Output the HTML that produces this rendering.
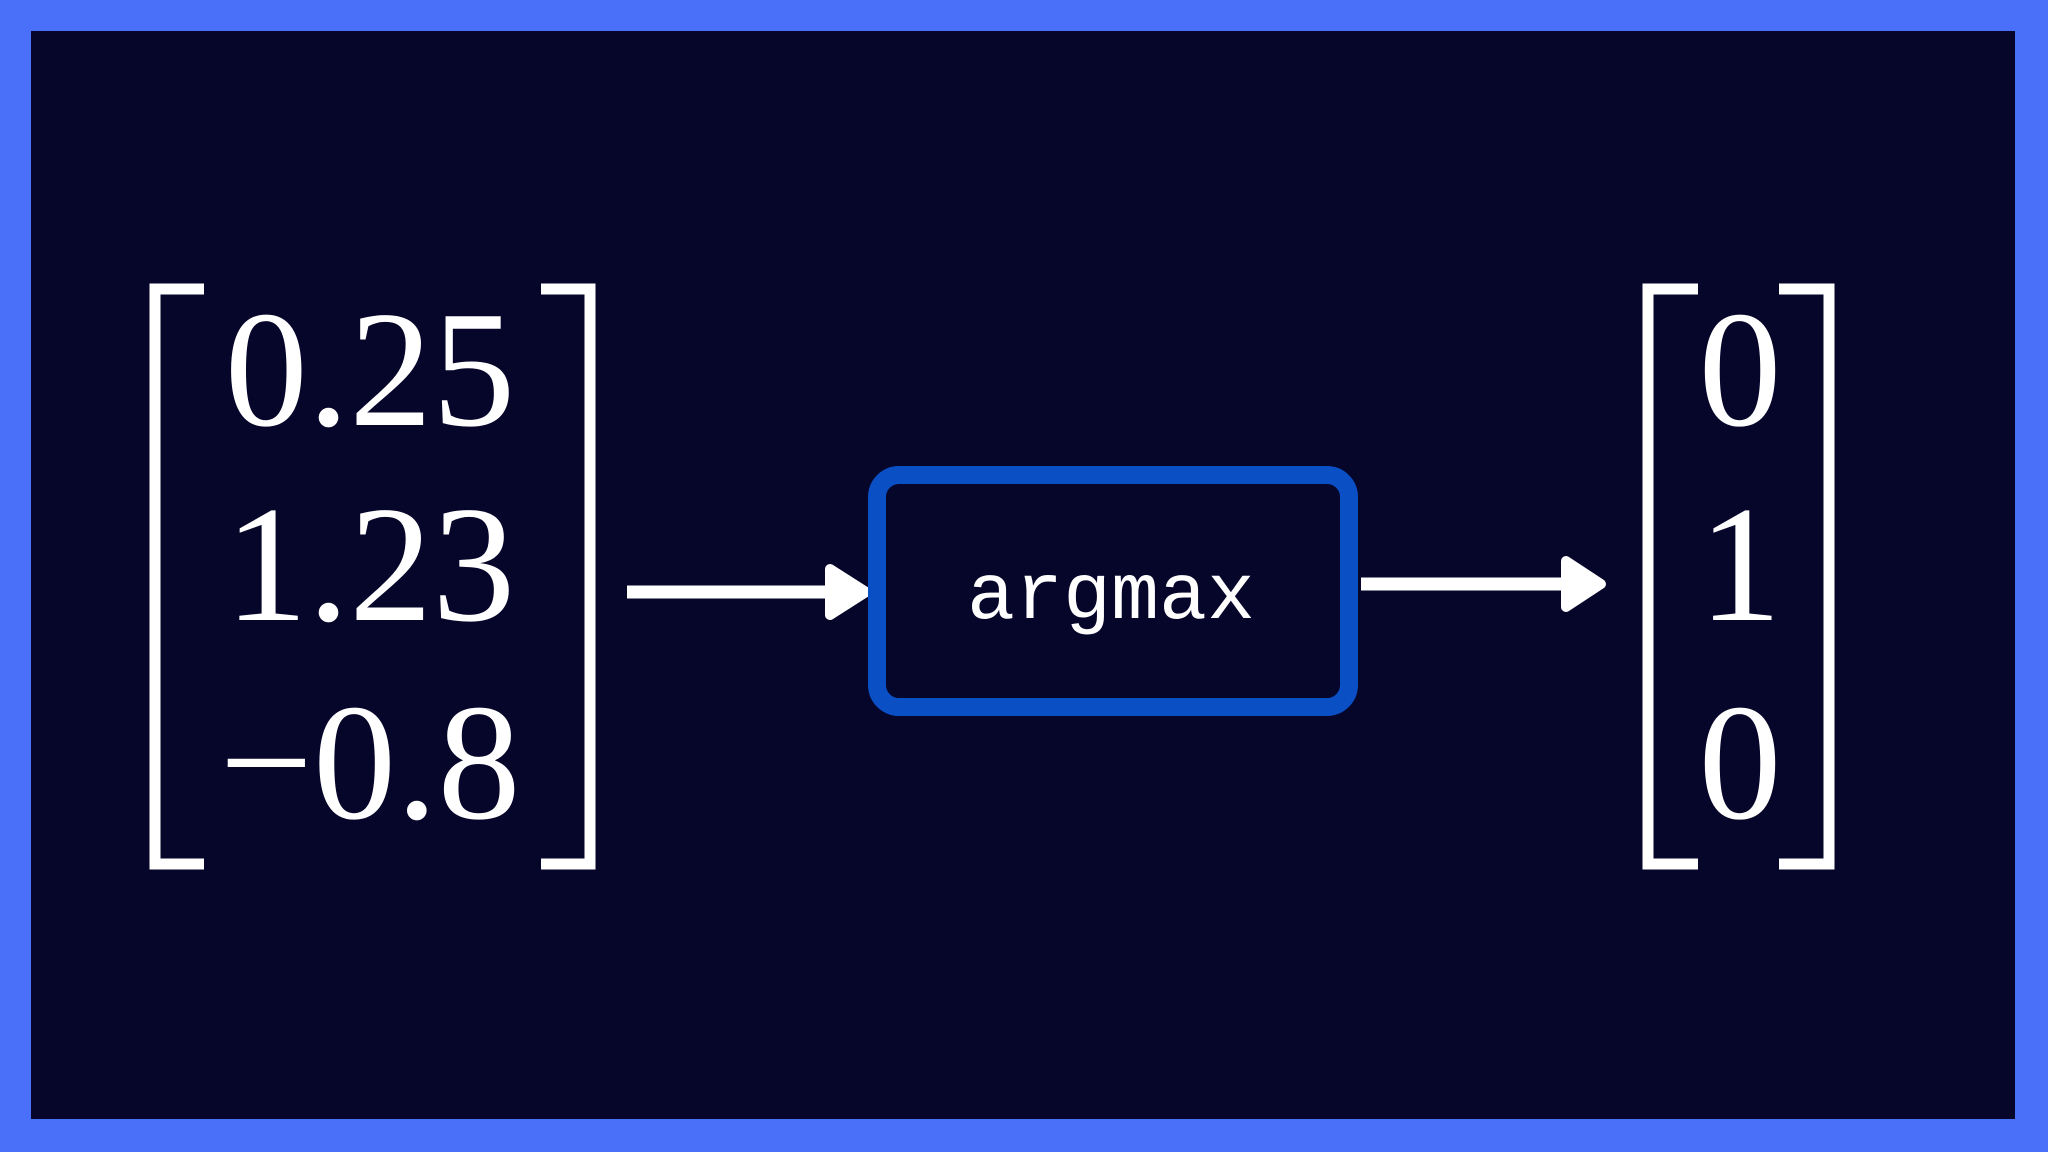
<!DOCTYPE html>
<html><head><meta charset="utf-8"><style>
html,body{margin:0;padding:0;background:#4a6ff9;}
svg{display:block;}
</style></head><body>
<svg width="2048" height="1152" viewBox="0 0 2048 1152" xmlns="http://www.w3.org/2000/svg">
<rect x="0" y="0" width="2048" height="1152" fill="#4a6ff9"/>
<rect x="31" y="31" width="1984" height="1088" fill="#06052a"/>
<g fill="none" stroke="#ffffff" stroke-width="11">
<polyline points="204,289 155,289 155,864 204,864"/>
<polyline points="541,289 590,289 590,864 541,864"/>
<polyline points="1698,289 1648,289 1648,864 1698,864"/>
<polyline points="1779,289 1829,289 1829,864 1779,864"/>
</g>
<g fill="#ffffff" font-family="'Liberation Serif',serif" font-size="166" text-anchor="middle">
<text x="370" y="425">0.25</text>
<text x="370" y="620">1.23</text>
<text x="370" y="818">−0.8</text>
<text x="1740" y="425">0</text>
<text x="1740" y="620">1</text>
<text x="1740" y="818">0</text>
</g>
<line x1="627" y1="592" x2="835" y2="592" stroke="#fff" stroke-width="13"/>
<polygon points="830,569 866,592 830,615" fill="#fff" stroke="#fff" stroke-width="10" stroke-linejoin="round"/>
<line x1="1361" y1="584" x2="1570" y2="584" stroke="#fff" stroke-width="13"/>
<polygon points="1566,561 1601,584 1566,607" fill="#fff" stroke="#fff" stroke-width="10" stroke-linejoin="round"/>
<rect x="877" y="475" width="472" height="232" rx="22" fill="#06052a" stroke="#0b4fc4" stroke-width="18"/>
<text x="1111" y="618" fill="#fff" font-family="'Liberation Mono',monospace" font-size="80" text-anchor="middle">argmax</text>
</svg>
</body></html>
